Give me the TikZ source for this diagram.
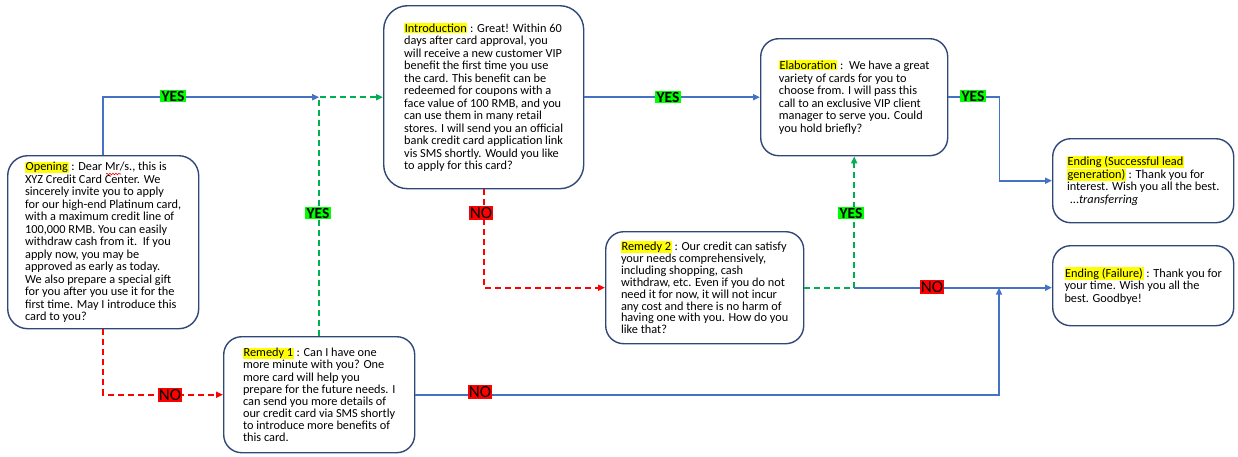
\documentclass[tikz,border=0pt]{standalone}
\usepackage{fontspec}
\setmainfont{Carlito}
\usetikzlibrary{arrows.meta,calc,decorations.pathmorphing}
\definecolor{boxc}{RGB}{47,72,120}
\definecolor{bline}{RGB}{68,114,196}
\definecolor{gline}{RGB}{0,176,80}
\definecolor{rline}{RGB}{255,0,0}
\definecolor{hly}{RGB}{255,255,0}
\definecolor{yesg}{RGB}{0,255,0}
\newcommand\hlt[1]{{\setlength{\fboxsep}{0.6pt}\colorbox{hly}{#1}}}
\begin{document}
\begin{tikzpicture}[x=1pt,y=-1pt,
  card/.style={draw=boxc, line width=1.4pt, rounded corners=18pt, fill=white,
    anchor=north west, align=left, inner sep=0pt,
    font=\fontsize{12.3}{12.5}\selectfont},
  arr/.style={-{Triangle[length=7pt,width=6pt]}},
  bluel/.style={draw=bline, line width=1.8pt},
  greenl/.style={draw=gline, line width=1.8pt, dash pattern=on 6pt off 4pt},
  redl/.style={draw=rline, line width=1.8pt, dash pattern=on 6pt off 4pt},
  yesl/.style={fill=yesg, inner sep=1.2pt, font=\fontsize{15.5}{15.5}\selectfont\bfseries},
  nol/.style={fill=rline, inner sep=1.2pt, font=\fontsize{17}{17}\selectfont}]
\path[use as bounding box] (0,0) rectangle (1238,456);

\node[card, minimum width=191pt, minimum height=173pt, rounded corners=20pt] (open) at (7,155)
{\hlt{Opening} : Dear Mr/s., this is\\
XYZ Credit Card Center. We\\
sincerely invite you to apply\\
for our high-end Platinum card,\\
with a maximum credit line of\\
100,000 RMB. You can easily\\
withdraw cash from it.\ \ If you\\
apply now, you may be\\
approved as early as today.\\
We also prepare a special gift\\
for you after you use it for the\\
first time. May I introduce this\\
card to you?};
\draw[rline, line width=0.6pt, decorate, decoration={snake, amplitude=0.8pt, segment length=3pt}] (106,174) -- (121,174);

\node[card, minimum width=191pt, minimum height=116pt, font=\fontsize{12.3}{12.1}\selectfont] (rem1) at (223,336)
{\hlt{Remedy 1} : Can I have one\\
more minute with you? One\\
more card will help you\\
prepare for the future needs. I\\
can send you more details of\\
our credit card via SMS shortly\\
to introduce more benefits of\\
this card.};

\node[card, minimum width=200pt, minimum height=183pt, rounded corners=24pt] (intro) at (383,5)
{\hlt{Introduction} : Great! Within 60\\
days after card approval, you\\
will receive a new customer VIP\\
benefit the first time you use\\
the card. This benefit can be\\
redeemed for coupons with a\\
face value of 100 RMB, and you\\
can use them in many retail\\
stores. I will send you an official\\
bank credit card application link\\
vis SMS shortly. Would you like\\
to apply for this card?};

\node[card, minimum width=198pt, minimum height=112pt, font=\fontsize{12.3}{11.9}\selectfont] (rem2) at (605,231)
{\hlt{Remedy 2} : Our credit can satisfy\\
your needs comprehensively,\\
including shopping, cash\\
withdraw, etc. Even if you do not\\
need it for now, it will not incur\\
any cost and there is no harm of\\
having one with you. How do you\\
like that?};

\node[card, minimum width=187pt, minimum height=117pt] (elab) at (760,38)
{\hlt{Elaboration} :\ \ We have a great\\
variety of cards for you to\\
choose from. I will pass this\\
call to an exclusive VIP client\\
manager to serve you. Could\\
you hold briefly?};

\node[card, minimum width=181pt, minimum height=84pt] (ends) at (1052,138)
{\hlt{Ending (Successful lead}\\
\hlt{generation)} : Thank you for\\
interest. Wish you all the best.\\
\ ...\textit{transferring}};

\node[card, minimum width=181pt, minimum height=80pt] (endf) at (1052,245)
{\hlt{Ending (Failure)} : Thank you for\\
your time. Wish you all the\\
best. Goodbye!};

% connectors
\coordinate (j1) at (rem1.north |- intro.west);
\draw[bluel, arr] (open.north) |- (j1);
\draw[greenl, arr] (rem1.north) |- (intro.west);
\draw[redl, arr] (open.south) |- (rem1.west);
\draw[bluel, arr] (intro.east) -- (elab.west);
\draw[bluel, arr] (elab.east) -- ++(51,0) |- (ends.west);
\draw[redl, arr] (intro.south) |- (rem2.west);
\coordinate (j3) at (elab.south |- rem2.east);
\draw[greenl, arr] (rem2.east) -| (elab.south);
\draw[bluel, arr] (j3) -- (j3 -| endf.west);
\coordinate (j4) at ($(j3 -| endf.west)+(-53,0)$);
\draw[bluel, arr] (rem1.east) -| (j4);

% labels
\node[yesl] (y1) at (173,96) {YES};
\node[yesl] (y2) at (318,213) {YES};
\node[nol] (n1) at (170,395) {NO};
\node[yesl] (y3) at (668,97) {YES};
\node[yesl] (y4) at (973,96) {YES};
\node[nol] (n2) at (481,213) {NO};
\node[yesl] (y5) at (851,213) {YES};
\node[nol] (n3) at (932,287) {NO};
\node[nol] (n4) at (480,392) {NO};
\end{tikzpicture}
\end{document}
